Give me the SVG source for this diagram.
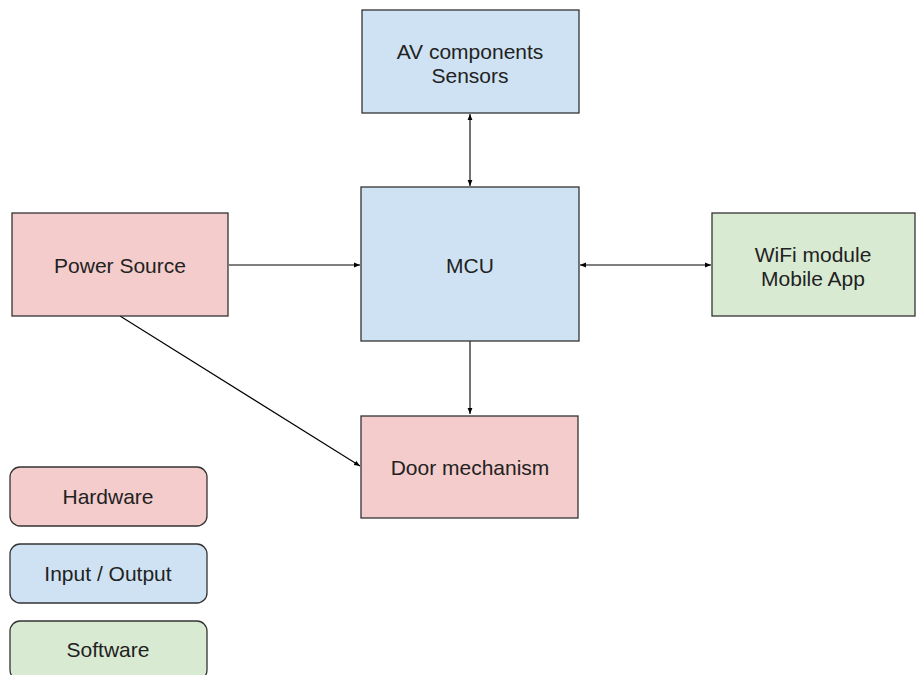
<svg xmlns="http://www.w3.org/2000/svg" width="917" height="675" viewBox="0 0 917 675">
<defs>
<marker id="ah" viewBox="0 0 10 10" refX="10" refY="5" markerWidth="6" markerHeight="6" orient="auto-start-reverse" markerUnits="userSpaceOnUse"><path d="M0,1 L10,5 L0,9 Z" fill="#000"/></marker>
<style>
.hw{fill:#f4cccc;stroke:#333;stroke-width:1.3}
.io{fill:#cfe2f3;stroke:#333;stroke-width:1.3}
.sw{fill:#d9ead3;stroke:#333;stroke-width:1.3}
text{font-family:"Liberation Sans",Arial,sans-serif;font-size:21px;fill:#222;text-anchor:middle}
.c{stroke:#000;stroke-width:1.1;fill:none}
</style>
</defs>
<rect width="917" height="675" fill="#fff"/>
<g id="connectors">
<line class="c" x1="470" y1="114" x2="470" y2="186" marker-start="url(#ah)" marker-end="url(#ah)"/>
<line class="c" x1="229" y1="265" x2="360" y2="265" marker-end="url(#ah)"/>
<line class="c" x1="580" y1="265" x2="711" y2="265" marker-start="url(#ah)" marker-end="url(#ah)"/>
<line class="c" x1="470" y1="341" x2="470" y2="414" marker-end="url(#ah)"/>
<line class="c" x1="120" y1="316" x2="360" y2="466" marker-end="url(#ah)"/>
</g>
<g id="av"><rect class="io" x="362" y="10" width="217" height="103"/><text x="470" y="59">AV components</text><text x="470" y="83">Sensors</text></g>
<g id="mcu"><rect class="io" x="361" y="187" width="218" height="154"/><text x="470" y="273">MCU</text></g>
<g id="power"><rect class="hw" x="12" y="213" width="216" height="103"/><text x="120" y="273">Power Source</text></g>
<g id="wifi"><rect class="sw" x="712" y="213" width="203" height="103"/><text x="813" y="262">WiFi module</text><text x="813" y="286">Mobile App</text></g>
<g id="door"><rect class="hw" x="361" y="416" width="217" height="102"/><text x="470" y="475">Door mechanism</text></g>
<g id="legend-hw"><rect class="hw" x="10" y="467" width="197" height="59" rx="10"/><text x="108" y="504">Hardware</text></g>
<g id="legend-io"><rect class="io" x="10" y="544" width="197" height="59" rx="10"/><text x="108" y="581">Input / Output</text></g>
<g id="legend-sw"><rect class="sw" x="10" y="621" width="197" height="59" rx="10"/><text x="108" y="657">Software</text></g>
</svg>
